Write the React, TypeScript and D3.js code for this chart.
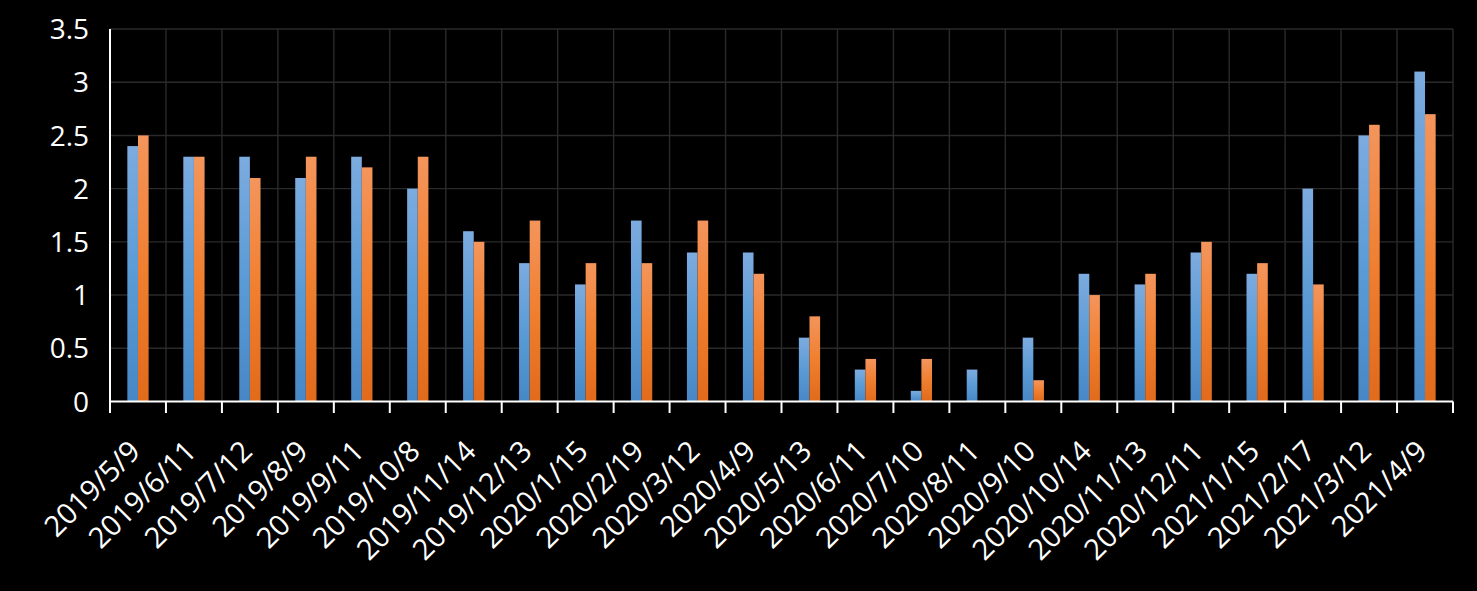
import React from "react";
import * as d3 from "d3";

const categories: string[] = [
  "2019/5/9", "2019/6/11", "2019/7/12", "2019/8/9", "2019/9/11", "2019/10/8",
  "2019/11/14", "2019/12/13", "2020/1/15", "2020/2/19", "2020/3/12", "2020/4/9",
  "2020/5/13", "2020/6/11", "2020/7/10", "2020/8/11", "2020/9/10", "2020/10/14",
  "2020/11/13", "2020/12/11", "2021/1/15", "2021/2/17", "2021/3/12", "2021/4/9",
];
const seriesA: number[] = [
  2.4, 2.3, 2.3, 2.1, 2.3, 2.0, 1.6, 1.3, 1.1, 1.7, 1.4, 1.4,
  0.6, 0.3, 0.1, 0.3, 0.6, 1.2, 1.1, 1.4, 1.2, 2.0, 2.5, 3.1,
];
const seriesB: number[] = [
  2.5, 2.3, 2.1, 2.3, 2.2, 2.3, 1.5, 1.7, 1.3, 1.3, 1.7, 1.2,
  0.8, 0.4, 0.4, 0, 0.2, 1.0, 1.2, 1.5, 1.3, 1.1, 2.6, 2.7,
];
const yTicks: number[] = [0, 0.5, 1, 1.5, 2, 2.5, 3, 3.5];

const W = 1477;
const H = 591;
const left = 110;
const right = 1453;
const top = 29;
const bottom = 401.5;
const FONT = "'Open Sans', 'Noto Sans', sans-serif";

export default function App() {
  const x = d3.scaleBand<string>().domain(categories).range([left, right]).padding(0);
  const y = d3.scaleLinear().domain([0, 3.5]).range([bottom, top]);
  const bw = x.bandwidth();
  const barW = bw * 0.19;
  const gridColor = "#2a2a2a";

  const boundaries = categories.map((c) => x(c)!).concat([right]);

  return (
    <svg
      width={W}
      height={H}
      style={{ position: "absolute", left: 0, top: 0, background: "#000", display: "block" }}
    >
      <defs>
        <linearGradient id="gBlue" x1="0" y1="0" x2="0" y2="1">
          <stop offset="0" stopColor="#7cabdf" />
          <stop offset="0.5" stopColor="#5b9bd5" />
          <stop offset="1" stopColor="#4787c6" />
        </linearGradient>
        <linearGradient id="gOrange" x1="0" y1="0" x2="0" y2="1">
          <stop offset="0" stopColor="#f4955c" />
          <stop offset="0.5" stopColor="#f07f30" />
          <stop offset="1" stopColor="#e16a1b" />
        </linearGradient>
      </defs>
      <rect x={0} y={0} width={W} height={H} fill="#000" />
      {yTicks.filter((t) => t > 0).map((t) => (
        <line key={"h" + t} x1={left} x2={right} y1={y(t)} y2={y(t)} stroke={gridColor} strokeWidth={1.4} />
      ))}
      {boundaries.slice(1).map((b, i) => (
        <line key={"v" + i} x1={b} x2={b} y1={top} y2={bottom} stroke={gridColor} strokeWidth={1.4} />
      ))}
      {categories.map((c, i) => {
        const cx = x(c)! + bw / 2;
        return (
          <g key={"b" + i}>
            {seriesA[i] > 0 && (
              <rect x={cx - barW} y={y(seriesA[i])} width={barW} height={bottom - y(seriesA[i])} fill="url(#gBlue)" />
            )}
            {seriesB[i] > 0 && (
              <rect x={cx} y={y(seriesB[i])} width={barW} height={bottom - y(seriesB[i])} fill="url(#gOrange)" />
            )}
          </g>
        );
      })}
      <line x1={left} x2={left} y1={top} y2={413} stroke="#fff" strokeWidth={2} />
      <line x1={left} x2={right} y1={bottom} y2={bottom} stroke="#fff" strokeWidth={2} />
      {boundaries.map((b, i) => (
        <line key={"t" + i} x1={b} x2={b} y1={bottom} y2={413} stroke="#fff" strokeWidth={2} />
      ))}
      {yTicks.map((t) => (
        <text
          key={"yl" + t}
          x={89}
          y={y(t)}
          dy="0.36em"
          textAnchor="end"
          fill="#fff"
          fontFamily={FONT}
          fontSize={28}
        >
          {String(t)}
        </text>
      ))}
      {categories.map((c, i) => {
        const cx = x(c)! + bw / 2;
        return (
          <text
            key={"xl" + i}
            transform={`translate(${cx + 4},${453}) rotate(-45)`}
            textAnchor="end"
            fill="#fff"
            fontFamily={FONT}
            fontSize={29}
          >
            {c}
          </text>
        );
      })}
    </svg>
  );
}
